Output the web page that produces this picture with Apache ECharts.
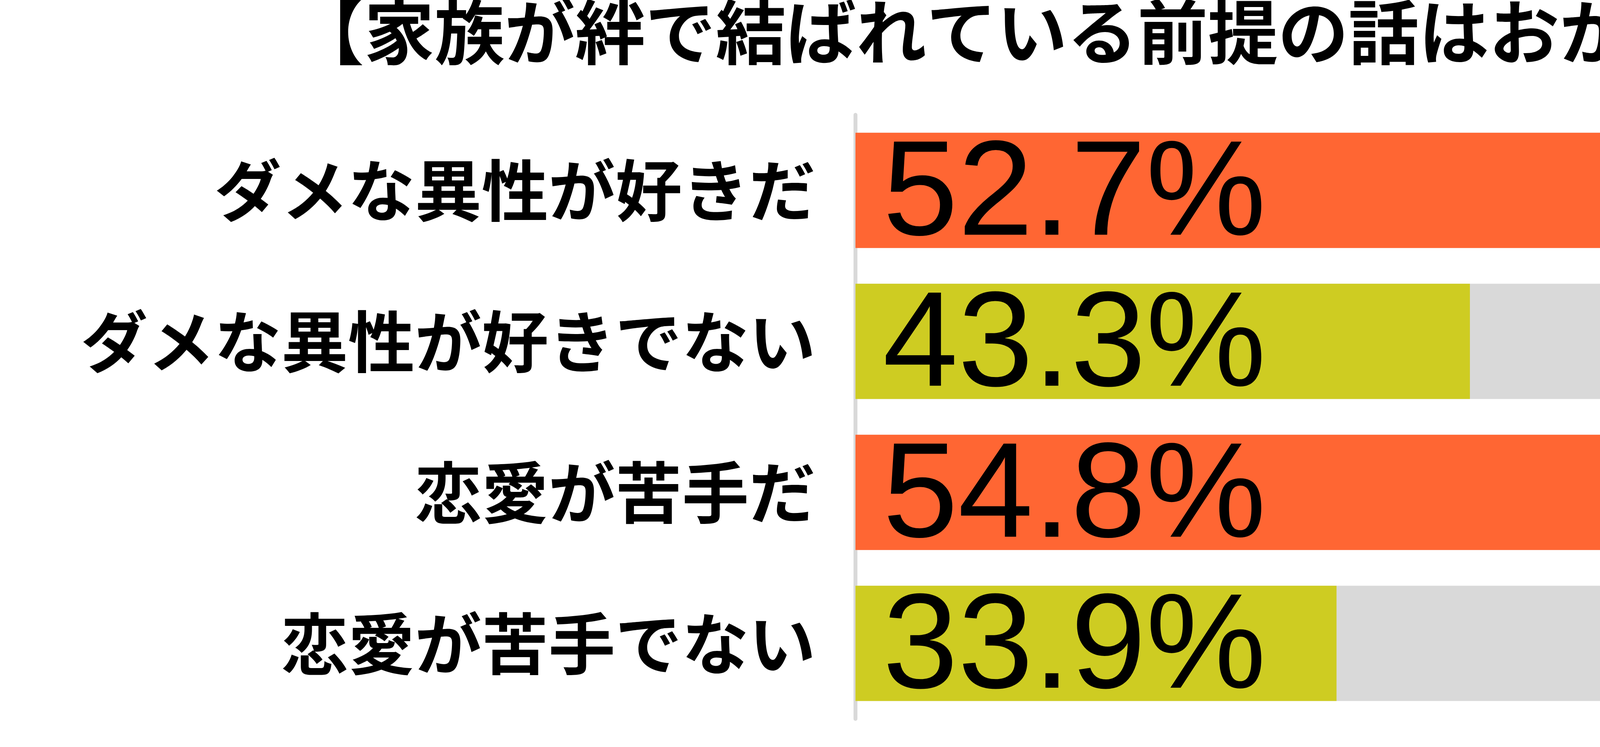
<!DOCTYPE html>
<html>
<head>
<meta charset="utf-8">
<script src="https://cdn.jsdelivr.net/npm/echarts/dist/echarts.min.js"></script>
<style>
html,body{margin:0;padding:0;background:#fff;overflow:hidden;}
#chart{width:6000px;height:1912px;}
</style>
</head>
<body>
<div id="chart"></div>
<script>
// ---- data ----
const titleText = '【家族が絆で結ばれている前提の話はおかしいと思う】';
const categories = ['ダメな異性が好きだ', 'ダメな異性が好きでない', '恋愛が苦手だ', '恋愛が苦手でない'];
const values = [52.7, 43.3, 54.8, 33.9];
const footnote = '（全国の20～60代男性1342名に調査）';
const logoTagline = '気になるアレを大調査ニュース!';
const logoName = 'しらべぇ';

// ---- styles ----
const barColors = ['#FF6633', '#CECC22'];
const jp = '"Noto Sans CJK JP", "Noto Sans", sans-serif';

const chart = echarts.init(document.getElementById('chart'), null, {renderer: 'canvas'});

const option = {
  backgroundColor: '#ffffff',
  animation: false,
  grid: {left: 2190, right: 170, top: 294, bottom: 72, containLabel: false},
  xAxis: {
    type: 'value', min: 0, max: 100.2, show: false
  },
  yAxis: {
    type: 'category',
    data: categories,
    inverse: true,
    offset: 5,
    axisLine: {show: true, lineStyle: {color: '#D9D9D9', width: 10}},
    axisTick: {show: false},
    axisLabel: {
      margin: 97,
      fontFamily: jp,
      fontWeight: 'bold',
      fontSize: 171,
      color: '#000000'
    }
  },
  series: [{
    type: 'bar',
    barWidth: 295,
    data: values.map((v, i) => ({value: v, itemStyle: {color: barColors[i % 2]}})),
    showBackground: true,
    backgroundStyle: {color: '#D9D9D9'},
    label: {
      show: true,
      position: 'insideLeft',
      distance: 70,
      offset: [0, 18],
      formatter: p => p.value + '%',
      fontFamily: '"Liberation Sans", Arial, sans-serif',
      fontSize: 346,
      fontWeight: 'normal',
      color: '#000000'
    }
  }],
  graphic: [
    {
      type: 'text', x: 3002, y: 82,
      style: {text: titleText, font: 'bold 180px ' + jp, fill: '#000', textAlign: 'center', textVerticalAlign: 'middle'}
    },
    {
      type: 'text', x: 5872, y: 1866,
      style: {text: footnote, font: '93px ' + jp, fill: '#000', textAlign: 'right', textVerticalAlign: 'middle'}
    },
    // logo
    {
      type: 'group',
      children: [
        {type: 'rect', shape: {x: 5203, y: 48, width: 681, height: 239}, style: {fill: '#FF50BE'}},
        {type: 'ellipse', shape: {cx: 5279, cy: 91, rx: 12, ry: 15}, style: {fill: '#000'}},
        {type: 'polygon', shape: {points: [[5274,114],[5290,114],[5288,150],[5280,185],[5290,200],[5240,205],[5258,170],[5268,140]]}, style: {fill: '#000'}},
        {type: 'ellipse', shape: {cx: 5280, cy: 222, rx: 55, ry: 37}, style: {fill: '#000'}},
        {type: 'circle', shape: {cx: 5312, cy: 196, r: 22}, style: {fill: '#000'}},
        {type: 'ellipse', shape: {cx: 5266, cy: 217, rx: 13, ry: 7}, style: {fill: '#FF50BE'}},
        {type: 'ellipse', shape: {cx: 5296, cy: 217, rx: 13, ry: 7}, style: {fill: '#FF50BE'}},
        {type: 'text', x: 5427, y: 103, style: {text: logoTagline, font: 'bold 26px ' + jp, fill: '#000', textAlign: 'left', textVerticalAlign: 'middle'}},
        {type: 'text', x: 5392, y: 195, style: {text: logoName, font: 'bold 118px ' + jp, fill: '#000', textAlign: 'left', textVerticalAlign: 'middle'}}
      ]
    }
  ]
};
chart.setOption(option);
</script>
</body>
</html>
